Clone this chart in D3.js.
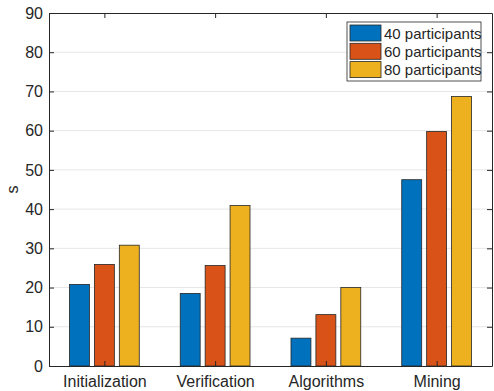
<!DOCTYPE html>
<html>
<head>
<meta charset="utf-8">
<script src="https://cdn.jsdelivr.net/npm/d3@7"></script>
<style>
  body { margin: 0; background: #fff; }
  text { font-family: "Liberation Sans", Arial, sans-serif; fill: #262626; }
</style>
</head>
<body>
<svg id="chart"></svg>
<script>
var categories = ["Initialization", "Verification", "Algorithms", "Mining"];
var seriesNames = ["40 participants", "60 participants", "80 participants"];
var s40 = [20.8, 18.5, 7.1, 47.5];
var s60 = [25.9, 25.6, 13.1, 59.8];
var s80 = [30.8, 40.9, 20.0, 68.7];
var yTicks = [0, 10, 20, 30, 40, 50, 60, 70, 80, 90];

var colors = ["#0072BD", "#D95319", "#EDB120"];
var series = [s40, s60, s80];

var w = 494, h = 391;
var padding = { top: 13, bottom: 25, left: 49, right: 2 };
var iw = w - padding.left - padding.right,
    ih = h - padding.top - padding.bottom;

var svg = d3.select("#chart").attr("width", w).attr("height", h);
var g = svg.append("g").attr("transform", "translate(" + padding.left + "," + padding.top + ")");

// bar x scale like MATLAB: centers at 1..4, limits 0.5..4.5
var xscale = d3.scaleLinear().domain([0.5, categories.length + 0.5]).range([0, iw]);
var yscale = d3.scaleLinear().domain([0, 90]).range([ih, 0]);

var unit = xscale(2) - xscale(1);
var barW = unit * 0.18;
var barStep = unit * 0.225;

// grid
g.append("g").selectAll("line")
  .data(yTicks.slice(1, -1))
  .enter().append("line")
  .attr("x1", 0).attr("x2", iw)
  .attr("y1", function(d){ return yscale(d); })
  .attr("y2", function(d){ return yscale(d); })
  .attr("stroke", "#e6e6e6").attr("stroke-width", 1);

// bars
series.forEach(function(vals, si){
  g.append("g").selectAll("rect")
    .data(vals)
    .enter().append("rect")
    .attr("x", function(d, i){ return xscale(i + 1) + (si - 1) * barStep - barW / 2; })
    .attr("y", function(d){ return yscale(d); })
    .attr("width", barW)
    .attr("height", function(d){ return ih - yscale(d); })
    .attr("fill", colors[si])
    .attr("stroke", "#262626").attr("stroke-width", 0.8);
});

// axes
var yAxisL = d3.axisLeft(yscale).tickValues(yTicks).tickSizeInner(-5).tickSizeOuter(0).tickPadding(6);
var yAxisR = d3.axisRight(yscale).tickValues(yTicks).tickSizeInner(-5).tickSizeOuter(0).tickFormat("");
var xAxisB = d3.axisBottom(xscale).tickValues([1, 2, 3, 4]).tickSizeInner(-5).tickSizeOuter(0).tickPadding(10)
  .tickFormat(function(d){ return categories[d - 1]; });
var xAxisT = d3.axisTop(xscale).tickValues([1, 2, 3, 4]).tickSizeInner(-5).tickSizeOuter(0).tickFormat("");

function styleAxis(sel){
  sel.select(".domain").attr("stroke", "#262626").attr("stroke-width", 1);
  sel.selectAll(".tick line").attr("stroke", "#262626").attr("stroke-width", 1);
  sel.selectAll(".tick text").attr("fill", "#262626").style("font-size", "16px")
    .style("font-family", "'Liberation Sans', Arial, sans-serif");
}

g.append("g").call(yAxisL).call(styleAxis);
g.append("g").attr("transform", "translate(" + iw + ",0)").call(yAxisR).call(styleAxis);
g.append("g").attr("transform", "translate(0," + ih + ")").call(xAxisB).call(styleAxis);
g.append("g").call(xAxisT).call(styleAxis);

// y label
svg.append("text")
  .attr("transform", "translate(18," + (padding.top + ih / 2) + ") rotate(-90)")
  .attr("text-anchor", "middle")
  .style("font-size", "16px")
  .text("s");

// legend
var lg = svg.append("g").attr("transform", "translate(347,22)");
lg.append("rect").attr("width", 134).attr("height", 59)
  .attr("fill", "#fff").attr("stroke", "#262626").attr("stroke-width", 0.8);
var items = lg.selectAll(".item").data(seriesNames).enter().append("g")
  .attr("transform", function(d, i){ return "translate(3," + (3 + i * 18.3) + ")"; });
items.append("rect").attr("width", 31).attr("height", 16)
  .attr("fill", function(d, i){ return colors[i]; })
  .attr("stroke", "#262626").attr("stroke-width", 0.8);
items.append("text").attr("x", 34).attr("y", 13.5)
  .style("font-size", "15px")
  .text(function(d){ return d; });
</script>
</body>
</html>
